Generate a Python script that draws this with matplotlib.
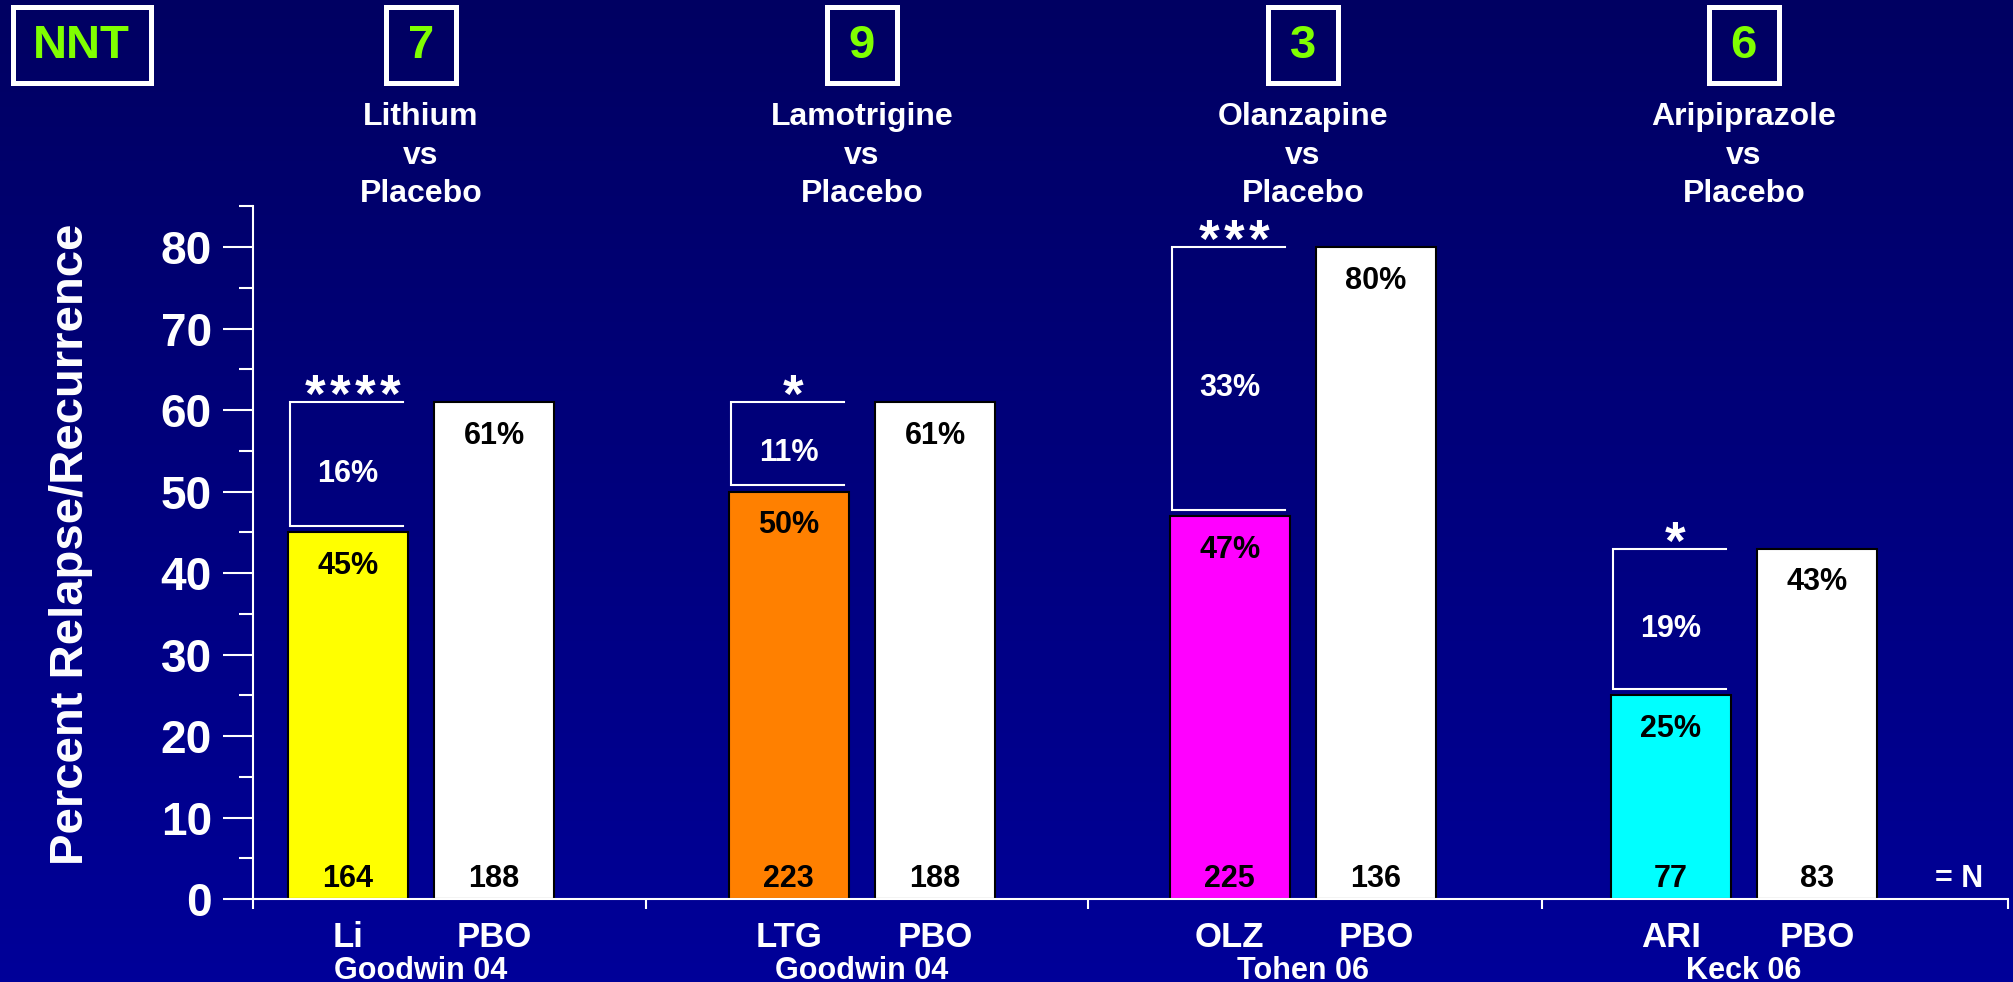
import numpy as np
import matplotlib
matplotlib.use("Agg")
import matplotlib.pyplot as plt
from matplotlib.patches import Rectangle
from matplotlib.transforms import blended_transform_factory

plt.rcParams['font.family'] = ['Liberation Sans', 'DejaVu Sans']
plt.rcParams['font.weight'] = 'bold'

# ---- data -------------------------------------------------------------
comparisons = ['Lithium', 'Lamotrigine', 'Olanzapine', 'Aripiprazole']
drug_codes = ['Li', 'LTG', 'OLZ', 'ARI']
studies = ['Goodwin 04', 'Goodwin 04', 'Tohen 06', 'Keck 06']
nnt = [7, 9, 3, 6]
drug_rate = [45, 50, 47, 25]
placebo_rate = [61, 61, 80, 43]
risk_reduction = [16, 11, 33, 19]
drug_n = [164, 223, 225, 77]
placebo_n = [188, 188, 136, 83]
significance = [4, 1, 3, 1]          # number of stars
drug_colors = ['#FFFF00', '#FF8000', '#FF00FF', '#00FFFF']
y_ticks = list(range(0, 81, 10))

# ---- figure and gradient background ----------------------------------
W, H = 2013, 982
PT = 100 / 72.0          # pixels per point at dpi 100
fig = plt.figure(figsize=(W / 100, H / 100), dpi=100)

bg = fig.add_axes([0, 0, 1, 1], zorder=-10)
ramp = np.linspace(0, 1, 256)[:, None, None]
top_col = np.array([0, 0, 0x62]) / 255
bot_col = np.array([0, 0, 0x99]) / 255
bg.imshow(top_col + (bot_col - top_col) * ramp, aspect='auto',
          extent=[0, 1, 0, 1], origin='upper')
bg.axis('off')

x0_px, x1_px = 253, 2008
y0_px, y1_px = 899, 206.4
ax = fig.add_axes([x0_px / W, 1 - y0_px / H,
                   (x1_px - x0_px) / W, (y0_px - y1_px) / H])
ax.patch.set_alpha(0)


def yax(p):
    """pixel row -> axes fraction"""
    return (y0_px - p) / (y0_px - y1_px)


groups = np.arange(len(comparisons))
offset = 0.166
bw = 0.272
xlim = (-0.381, 3.599)
ax.set_xlim(*xlim)
ax.set_ylim(0, 85)

# ---- bars --------------------------------------------------------------
ax.bar(groups - offset, drug_rate, bw, color=drug_colors,
       edgecolor='black', linewidth=1.5, zorder=2)
ax.bar(groups + offset, placebo_rate, bw, color='white',
       edgecolor='black', linewidth=1.5, zorder=2)

# ---- axes styling ------------------------------------------------------
for side in ('top', 'right'):
    ax.spines[side].set_visible(False)
for side in ('left', 'bottom'):
    ax.spines[side].set_color('white')
    ax.spines[side].set_linewidth(1.5)
    ax.spines[side].set_zorder(4)

ax.set_yticks(y_ticks)
ax.set_yticks(np.arange(5, 86, 10), minor=True)
ax.tick_params(axis='y', which='major', length=30 / PT, width=1.5,
               color='white', labelcolor='white', labelsize=33, pad=8)
ax.tick_params(axis='y', which='minor', length=14 / PT, width=1.5,
               color='white')
ax.set_xticks([xlim[0], 0.51, 1.512, 2.542, xlim[1]])
ax.set_xticklabels([])
ax.tick_params(axis='x', length=10 / PT, width=1.5, color='white')

ax.set_ylabel('Percent Relapse/Recurrence', color='white', fontsize=34,
              fontweight='bold')
ax.yaxis.set_label_coords((71 - x0_px) / (x1_px - x0_px), yax(544))
ax.yaxis.label.set_verticalalignment('center')

# ---- brackets, differences and significance ---------------------------
star_step = 25 / 441
for i in groups:
    left = i - offset - bw / 2 + 0.005
    right = i - offset + bw / 2 - 0.01
    lo = drug_rate[i] + 0.8
    hi = placebo_rate[i]
    ax.plot([right, left, left, right], [hi, hi, lo, lo], color='white',
            lw=1.5, solid_joinstyle='miter', zorder=3)
    mid = (lo + hi) / 2
    ax.text(i - offset, mid - 2.2, f'{risk_reduction[i]}%', color='white',
            fontsize=22, ha='center', va='baseline', zorder=5)
    n = significance[i]
    for k in range(n):
        ax.text(i - offset + 0.01 + (k - (n - 1) / 2) * star_step, hi - 1.25,
                '*', color='white', fontsize=38, ha='center',
                va='baseline', zorder=5)

# ---- values in bars ----------------------------------------------------
for i in groups:
    ax.text(i - offset, drug_rate[i] - 5.1, f'{drug_rate[i]}%', color='black',
            fontsize=22, ha='center', va='baseline', zorder=5)
    ax.text(i + offset, placebo_rate[i] - 5.1, f'{placebo_rate[i]}%',
            color='black', fontsize=22, ha='center', va='baseline', zorder=5)
    ax.text(i - offset, 1.5, str(drug_n[i]), color='black', fontsize=22,
            ha='center', va='baseline', zorder=5)
    ax.text(i + offset, 1.5, str(placebo_n[i]), color='black', fontsize=22,
            ha='center', va='baseline', zorder=5)
ax.text(3.487, 1.5, '= N', color='white', fontsize=22, ha='center',
        va='baseline', zorder=5)

# ---- category labels under the axis -----------------------------------
xlab = blended_transform_factory(ax.transData, ax.transAxes)
for i in groups:
    for x, lab in ((i - offset, drug_codes[i]), (i + offset, 'PBO')):
        ax.annotate(lab, (x, 0), xycoords=xlab, xytext=(0, -48 / PT),
                    textcoords='offset points', ha='center', va='baseline',
                    color='white', fontsize=25, annotation_clip=False)
    ax.annotate(studies[i], (i, 0), xycoords=xlab, xytext=(0, -80 / PT),
                textcoords='offset points', ha='center', va='baseline',
                color='white', fontsize=22, annotation_clip=False)

# ---- NNT boxes and comparison titles ----------------------------------
green = '#80FF00'
box_w = 70 / 441
box_y0, box_y1 = yax(83.5), yax(7.5)
for i in groups:
    ax.add_patch(Rectangle((i - box_w / 2, box_y0), box_w, box_y1 - box_y0,
                           transform=xlab, fill=False, ec='white', lw=3.6,
                           clip_on=False))
    ax.text(i, yax(58), str(nnt[i]), transform=xlab, color=green,
            fontsize=34, ha='center', va='baseline', clip_on=False)
    for line, base in zip((comparisons[i], 'vs', 'Placebo'), (125, 164, 202)):
        ax.text(i, yax(base), line, transform=xlab, color='white',
                fontsize=23, ha='center', va='baseline', clip_on=False)

nx0 = (12.5 - x0_px) / (x1_px - x0_px)
nx1 = (150.5 - x0_px) / (x1_px - x0_px)
ax.add_patch(Rectangle((nx0, box_y0), nx1 - nx0, box_y1 - box_y0,
                       transform=ax.transAxes, fill=False, ec='white',
                       lw=3.6, clip_on=False))
ax.text((nx0 + nx1) / 2, yax(58), 'NNT', transform=ax.transAxes,
        color=green, fontsize=34, ha='center', va='baseline', clip_on=False)

fig.savefig('out.png', dpi=100)
